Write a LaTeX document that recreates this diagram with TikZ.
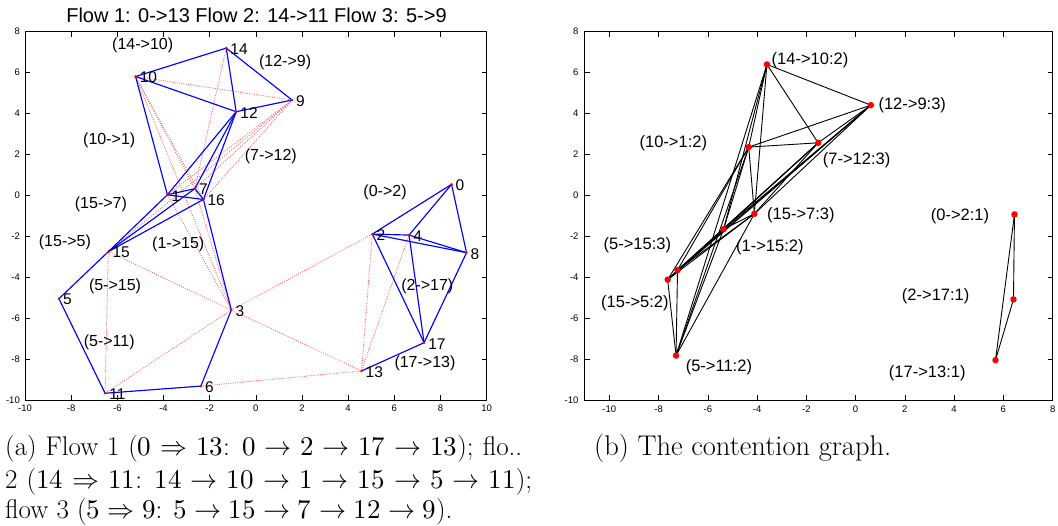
\documentclass[tikz,border=0pt]{standalone}
\usepackage{fontspec}
\usepackage{unicode-math}
\setmathfont{Latin Modern Math}
\newfontfamily\arial{Liberation Sans}
\begin{document}
\begin{tikzpicture}[x=1pt,y=1pt,
  blueedge/.style={draw=blue, line width=1.15pt},
  interf/.style={draw=red!60, line width=0.9pt, dash pattern=on 0.9pt off 1.4pt},
  cedge/.style={draw=black, line width=0.9pt},
  reddot/.style={draw=none, fill=red, circle, inner sep=0pt, minimum size=2.8pt},
  bigdot/.style={draw=none, fill=red, circle, inner sep=0pt, minimum size=6.5pt},
  nlab/.style={font=\arial\fontsize{15.5}{17}\selectfont, anchor=west, inner sep=0pt, xshift=4pt, yshift=-1pt},
  llab/.style={font=\arial\fontsize{16}{18}\selectfont, inner sep=0pt},
  rlab/.style={font=\arial\fontsize{16.5}{18}\selectfont, inner sep=0pt},
  ticklab/.style={font=\arial\fontsize{9.5}{10}\selectfont, inner sep=0pt},
  axisbox/.style={draw=black, line width=0.8pt},
  tickmark/.style={draw=black, line width=0.6pt},
  caption/.style={font=\fontsize{27}{33}\selectfont, inner sep=0pt, anchor=base west},
  captionb/.style={font=\fontsize{28.5}{33}\selectfont, inner sep=0pt, anchor=base west}
]
\useasboundingbox (0,0) rectangle (1058,525);
\fill[white] (0,0) rectangle (1058,525);

% title
\node[font=\arial\fontsize{20}{22}\selectfont, inner sep=0pt] (title) at (256.5,510) {Flow 1: 0->13 Flow 2: 14->11 Flow 3: 5->9};

% ================= left plot =================
\begin{scope}[shift={(255.8,329.6)}, x=23.08pt, y=20.46pt]
  \draw[axisbox] (-10,-10) rectangle (10,8);
  \foreach \x in {-10,-8,...,10} {
    \draw[tickmark] (\x,-10) -- ++(0,5pt);
    \draw[tickmark] (\x,8) -- ++(0,-5pt);
    \node[ticklab, yshift=-8.5pt] (lx\x) at (\x,-10) {\x};
  }
  \foreach \y in {-10,-8,...,8} {
    \draw[tickmark] (-10,\y) -- ++(5pt,0);
    \draw[tickmark] (10,\y) -- ++(-5pt,0);
    \node[ticklab, anchor=east, xshift=-5pt] (ly\y) at (-10,\y) {\y};
  }
  % nodes
  \foreach \n/\px/\py in {0/8.48/0.54, 1/-3.83/0.03, 2/5.05/-1.89, 3/-1.06/-5.60,
      4/6.64/-1.94, 5/-8.53/-5.05, 6/-2.38/-9.32, 7/-2.64/0.33, 8/9.13/-2.80,
      9/1.57/4.66, 10/-5.21/5.81, 11/-6.53/-9.67, 12/-0.85/4.09, 13/4.58/-8.58,
      14/-1.28/7.20, 15/-6.39/-2.75, 16/-2.27/-0.20, 17/7.29/-7.20} {
    \coordinate (n\n) at (\px,\py);
  }
  % interference (dotted) links
  \foreach \a/\b in {10/9, 10/7, 10/16, 10/3, 14/7, 9/1, 9/7, 9/16, 9/15, 1/3, 7/3,
      15/3, 15/11, 11/3, 6/13, 3/2, 3/13, 2/13, 4/13} {
    \draw[interf] (n\a) -- (n\b);
  }
  % communication links
  \foreach \a/\b in {14/10, 14/12, 14/9, 10/12, 12/9, 10/1, 12/1, 12/7, 12/16, 1/7,
      1/16, 7/16, 15/1, 15/7, 15/16, 16/3, 3/6, 6/11, 11/5, 5/15, 0/2, 0/4, 0/8,
      2/4, 2/8, 4/8, 2/17, 4/17, 8/17, 17/13} {
    \draw[blueedge] (n\a) -- (n\b);
  }
  \foreach \n in {0,...,17} {
    \node[reddot] (d\n) at (n\n) {};
    \node[nlab] (t\n) at (n\n) {\n};
  }
  % link labels
  \node[llab] (a1) at (-4.90,7.32) {(14->10)};
  \node[llab] (a2) at (1.27,6.49) {(12->9)};
  \node[llab] (a3) at (-6.35,2.71) {(10->1)};
  \node[llab] (a4) at (0.65,1.89) {(7->12)};
  \node[llab] (a5) at (5.60,0.13) {(0->2)};
  \node[llab] (a6) at (-6.71,-0.42) {(15->7)};
  \node[llab] (a7) at (-8.27,-2.29) {(15->5)};
  \node[llab] (a8) at (-3.36,-2.39) {(1->15)};
  \node[llab] (a9) at (-6.10,-4.46) {(5->15)};
  \node[llab] (a10) at (7.43,-4.46) {(2->17)};
  \node[llab] (a11) at (-6.35,-7.20) {(5->11)};
  \node[llab] (a12) at (7.33,-8.21) {(17->13)};
\end{scope}

% ================= right plot =================
\begin{scope}[shift={(855.6,329.6)}, x=24.63pt, y=20.46pt]
  \draw[axisbox] (-11,-10) rectangle (8,8);
  \foreach \x in {-10,-8,...,8} {
    \draw[tickmark] (\x,-10) -- ++(0,5pt);
    \draw[tickmark] (\x,8) -- ++(0,-5pt);
    \node[ticklab, yshift=-9pt] (rx\x) at (\x,-10) {\x};
  }
  \foreach \y in {-10,-8,...,8} {
    \draw[tickmark] (-11,\y) -- ++(5pt,0);
    \draw[tickmark] (8,\y) -- ++(-5pt,0);
    \node[ticklab, anchor=east, xshift=-6pt] (ry\y) at (-11,\y) {\y};
  }
  \foreach \n/\px/\py in {A/-3.60/6.40, B/0.62/4.41, C/-4.34/2.36, D/-1.52/2.57,
      E/-4.11/-0.90, F/-5.36/-1.65, G/-7.23/-3.65, H/-7.63/-4.12, I/-7.29/-7.83,
      J/6.45/-0.93, K/6.41/-5.08, L/5.68/-8.05} {
    \coordinate (c\n) at (\px,\py);
  }
  \foreach \a/\b in {A/B, A/C, A/D, A/E, A/F, A/I, B/C, B/D, B/E, B/F, B/G, B/H,
      C/D, C/E, C/F, C/G, C/H, C/I, D/E, D/F, D/G, D/H, E/F, E/G, E/H, E/I,
      F/G, F/H, F/I, G/H, G/I, H/I, J/K, J/L, K/L} {
    \draw[cedge] (c\a) -- (c\b);
  }
  \foreach \n in {A,B,C,D,E,F,G,H,I,J,K,L} {
    \node[bigdot] (e\n) at (c\n) {};
  }
  \node[rlab] (bA) at (-1.85,6.62) {(14->10:2)};
  \node[rlab] (bB) at (2.30,4.42) {(12->9:3)};
  \node[rlab] (bC) at (-7.40,2.55) {(10->1:2)};
  \node[rlab] (bD) at (0.04,1.73) {(7->12:3)};
  \node[rlab] (bE) at (-2.22,-0.99) {(15->7:3)};
  \node[rlab] (bF) at (-3.48,-2.54) {(1->15:2)};
  \node[rlab] (bG) at (-8.86,-2.44) {(5->15:3)};
  \node[rlab] (bH) at (-8.96,-5.27) {(15->5:2)};
  \node[rlab] (bI) at (-5.55,-8.40) {(5->11:2)};
  \node[rlab] (bJ) at (4.24,-1.00) {(0->2:1)};
  \node[rlab] (bK) at (3.25,-4.92) {(2->17:1)};
  \node[rlab] (bL) at (2.91,-8.67) {(17->13:1)};
\end{scope}

% ================= captions =================
\node[caption] (capa1) at (5,69.5) {\makebox[517pt][s]{(a) Flow 1 ($0 \Rightarrow 13$: $0 \rightarrow 2 \rightarrow 17 \rightarrow 13$); flo..}};
\node[caption] (capa2) at (5,36.5) {\makebox[527pt][s]{2 ($14 \Rightarrow 11$: $14 \rightarrow 10 \rightarrow 1 \rightarrow 15 \rightarrow 5 \rightarrow 11$);}};
\node[caption] (capa3) at (5,6) {flow 3 ($5 \Rightarrow 9$: $5 \rightarrow 15 \rightarrow 7 \rightarrow 12 \rightarrow 9$).};
\node[captionb] (capb) at (594,69.5) {(b) The contention graph.};
\end{tikzpicture}
\end{document}
